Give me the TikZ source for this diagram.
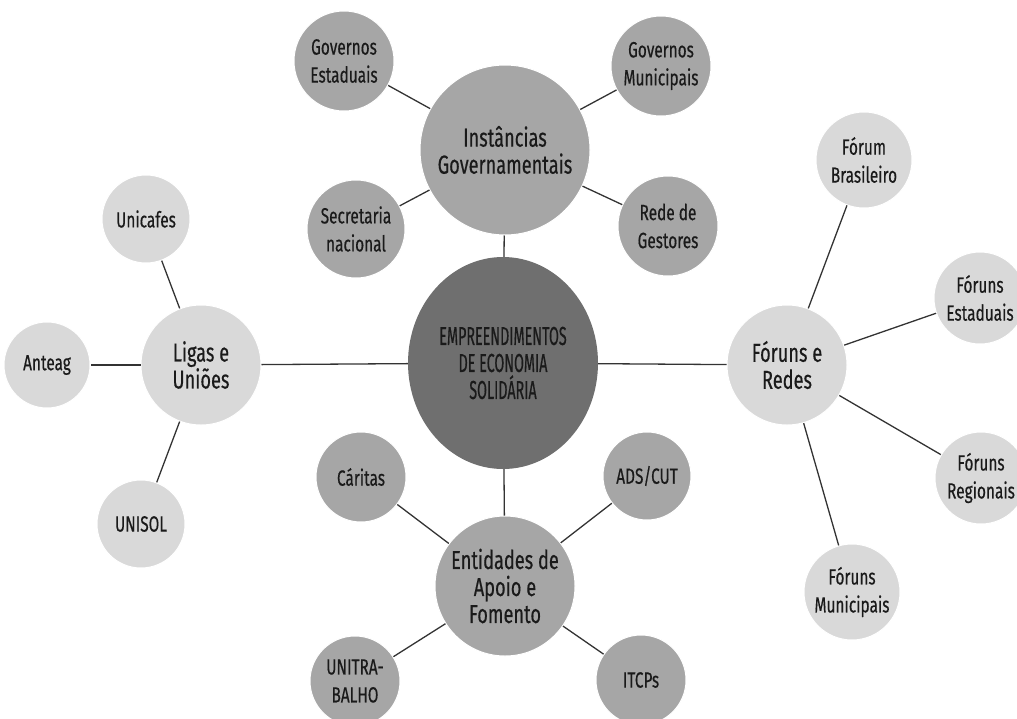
\documentclass[tikz,border=0pt]{standalone}
\usepackage{fontspec}
\setmainfont{Fira Sans}[FakeStretch=0.7,FakeBold=0.4]
\newfontfamily\hubfont{Fira Sans}[FakeStretch=0.55,FakeBold=0.4]
\usetikzlibrary{shapes.geometric}
\definecolor{hubdark}{HTML}{6F6F6F}
\definecolor{midgray}{HTML}{A6A6A6}
\definecolor{lightgray}{HTML}{D9D9D9}
\definecolor{inkgray}{HTML}{1A1A1A}
\definecolor{linkgray}{HTML}{333333}
\begin{document}
\begin{tikzpicture}[x=1pt,y=-1pt,
  bubble/.style={circle,inner sep=0pt,align=center,text=inkgray,draw=white,line width=1pt},
  big/.style={bubble,font=\fontsize{26}{27}\selectfont},
  small/.style={bubble,font=\fontsize{22}{28}\selectfont},
  midbub/.style={fill=midgray},
  litebub/.style={fill=lightgray},
  link/.style={draw=linkgray,line width=1.3pt}]
\useasboundingbox (0,0) rectangle (1017,718);

% central ellipse
\node[ellipse,fill=hubdark,inner sep=0pt,minimum width=190,minimum height=212,align=center,text=inkgray,font=\hubfont\fontsize{26}{27}\selectfont] (hub) at (503,363) {EMPREENDIMENTOS\\DE ECONOMIA\\SOLIDÁRIA};

% government branch
\node[big,midbub,minimum size=170] (gov) at (505,150) {Instâncias\\Governamentais};
\node[small,midbub,minimum size=100] (ge) at (344,61) {Governos\\Estaduais};
\node[small,midbub,minimum size=100] (gm) at (661,66) {Governos\\Municipais};
\node[small,midbub,minimum size=98] (sn) at (356,229) {Secretaria\\nacional};
\node[small,midbub,minimum size=100] (rg) at (668,226) {Rede de\\Gestores};

% leagues branch
\node[big,litebub,minimum size=120] (lig) at (201,365) {Ligas e\\Uniões};
\node[small,litebub,minimum size=88] (uc) at (146,219) {Unicafes};
\node[small,litebub,minimum size=86] (an) at (47,365) {Anteag};
\node[small,litebub,minimum size=88] (us) at (141,524) {UNISOL};

% forums branch
\node[big,litebub,minimum size=120] (for) at (787,365) {Fóruns e\\Redes};
\node[small,litebub,minimum size=96] (fb) at (864,160) {Fórum\\Brasileiro};
\node[small,litebub,minimum size=92] (fe) at (980,298) {Fóruns\\Estaduais};
\node[small,litebub,minimum size=92] (fr) at (981,478) {Fóruns\\Regionais};
\node[small,litebub,minimum size=96] (fm) at (852,592) {Fóruns\\Municipais};

% support entities branch
\node[big,midbub,minimum size=140] (ent) at (505,586) {Entidades de\\Apoio e\\Fomento};
\node[small,midbub,minimum size=90] (ca) at (361,477) {Cáritas};
\node[small,midbub,minimum size=88] (ad) at (647,476) {ADS/CUT};
\node[small,midbub,minimum size=90] (un) at (355,681) {UNITRA-\\BALHO};
\node[small,midbub,minimum size=90] (it) at (641,680) {ITCPs};

% connectors, drawn from centre to centre and clipped at the node borders
\foreach \a/\b in {hub/gov,hub/lig,hub/for,hub/ent,
  gov/ge,gov/gm,gov/sn,gov/rg,
  lig/uc,lig/an,lig/us,
  for/fb,for/fe,for/fr,for/fm,
  ent/ca,ent/ad,ent/un,ent/it}
  \draw[link] (\a) -- (\b);
\end{tikzpicture}
\end{document}
